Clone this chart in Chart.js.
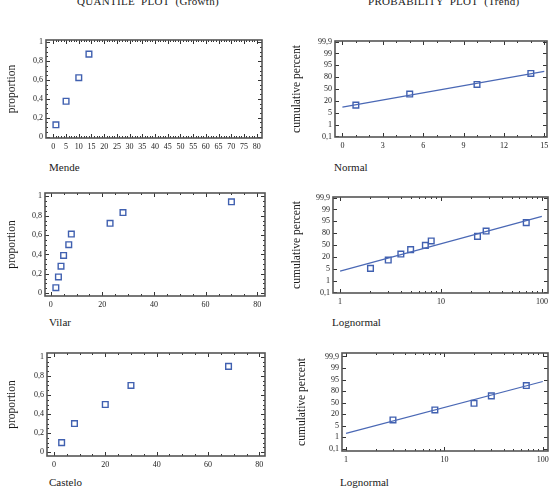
<!DOCTYPE html>
<html>
<head>
<meta charset="utf-8">
<script src="https://cdn.jsdelivr.net/npm/chart.js@4.4.1/dist/chart.umd.min.js"></script>
<style>
  html, body { margin:0; padding:0; background:#fff; }
  body { width:557px; height:488px; position:relative; overflow:hidden; font-family:"Liberation Serif", "DejaVu Serif", serif; color:#222; }
  .panel { position:absolute; }
  .txt { position:absolute; white-space:nowrap; line-height:1; font-family:"Liberation Serif", serif; color:#1a1a1a; }
  .head { font-size:11px; letter-spacing:0.3px; word-spacing:3px; }
  .lab { font-size:11px; }
</style>
</head>
<body>
<div class="txt head" id="t1" style="left:77px; top:-4px;">QUANTILE PLOT (Growth)</div>
<div class="txt head" id="t2" style="left:368px; top:-4px;">PROBABILITY PLOT (Trend)</div>
<div class="txt lab" style="left:49px; top:162px;">Mende</div>
<div class="txt lab" style="left:334px; top:162px;">Normal</div>
<div class="txt lab" style="left:49px; top:317px;">Vilar</div>
<div class="txt lab" style="left:332px; top:317px;">Lognormal</div>
<div class="txt lab" style="left:49px; top:477px;">Castelo</div>
<div class="txt lab" style="left:340px; top:477px;">Lognormal</div>

<div class="panel" id="p1"><canvas id="c1"></canvas></div>
<div class="panel" id="p2"><canvas id="c2"></canvas></div>
<div class="panel" id="p3"><canvas id="c3"></canvas></div>
<div class="panel" id="p4"><canvas id="c4"></canvas></div>
<div class="panel" id="p5"><canvas id="c5"></canvas></div>
<div class="panel" id="p6"><canvas id="c6"></canvas></div>

<script>
// ---------------- DATA ----------------
// Quantile plots (Growth): sorted values and plotting proportions
const mendeValues   = [1, 5, 10, 14];
const mendeProp     = [0.125, 0.375, 0.625, 0.875];
const vilarValues   = [2, 3, 4, 5, 7, 8, 23, 28, 70];
const vilarProp     = [0.056, 0.167, 0.278, 0.389, 0.5, 0.611, 0.722, 0.833, 0.944];
const casteloValues = [3, 8, 20, 30, 68];
const casteloProp   = [0.1, 0.3, 0.5, 0.7, 0.9];

// Probability plots (Trend): tick labels of the cumulative percent axis (positions 0..8)
const probTickLabels = ['0,1', '1', '5', '20', '50', '80', '95', '99', '99,9'];
// point heights read on that axis (in tick-position units)
const mendeProbPos   = [2.64, 3.57, 4.38, 5.31];
const vilarProbPos   = [2.03, 2.73, 3.24, 3.61, 3.97, 4.34, 4.73, 5.18, 5.89];
const casteloProbPos = [2.49, 3.36, 3.94, 4.58, 5.48];
// fitted lines (end points)
const mendeFitX   = [0, 15];   const mendeFitPos   = [2.47, 5.48];
const vilarFitX   = [1, 100];  const vilarFitPos   = [1.80, 6.42];
const casteloFitX = [1, 100];  const casteloFitPos = [1.33, 5.83];

// tick label values
const propTicks   = [0, 0.2, 0.4, 0.6, 0.8, 1];
const mendeXTicks = [0,5,10,15,20,25,30,35,40,45,50,55,60,65,70,75,80];
const wideXTicks  = [0, 20, 40, 60, 80];
const normXTicks  = [0, 3, 6, 9, 12, 15];
const logXTicks   = [1, 10, 100];

// ---------------- HELPERS ----------------
const FONT = '"Liberation Serif", serif';
const PT_COLOR = '#4060b0';
const LINE_COLOR = '#4a68b5';
function range(a, b, s) { const r = []; for (let v = a; v <= b + 1e-9; v += s) r.push(Math.round(v * 1000) / 1000); return r; }
const logMinor = [2,3,4,5,6,7,8,9,20,30,40,50,60,70,80,90];
const comma = v => String(v).replace('.', ',');

const frameTicks = {
  id: 'frameTicks',
  afterDatasetsDraw(chart, args, o) {
    const { ctx, chartArea: a, scales: { x, y } } = chart;
    ctx.save();
    ctx.strokeStyle = '#333';
    ctx.lineWidth = 1;
    const inX = px => px >= a.left - 0.5 && px <= a.right + 0.5;
    const inY = py => py >= a.top - 0.5 && py <= a.bottom + 0.5;
    const dx = (vals, len) => (vals || []).forEach(v => {
      const px = Math.round(x.getPixelForValue(v)) + 0.5; if (!inX(px)) return;
      ctx.beginPath(); ctx.moveTo(px, a.bottom); ctx.lineTo(px, a.bottom - len);
      ctx.moveTo(px, a.top); ctx.lineTo(px, a.top + len); ctx.stroke();
    });
    const dy = (vals, len) => (vals || []).forEach(v => {
      const py = Math.round(y.getPixelForValue(v)) + 0.5; if (!inY(py)) return;
      ctx.beginPath(); ctx.moveTo(a.left, py); ctx.lineTo(a.left + len, py);
      ctx.moveTo(a.right, py); ctx.lineTo(a.right - len, py); ctx.stroke();
    });
    dx(o.xMajor, 4); dx(o.xMinor, 2);
    dy(o.yMajor, 4); dy(o.yMinor, 2);
    ctx.strokeStyle = '#555';
    ctx.lineWidth = 1.6;
    ctx.strokeRect(a.left, a.top, a.right - a.left, a.bottom - a.top);
    ctx.restore();
  }
};
Chart.register(frameTicks);

function place(id, box) {
  const d = document.getElementById(id);
  d.style.left = box[0] + 'px'; d.style.top = box[1] + 'px';
  d.style.width = (box[2] - box[0]) + 'px'; d.style.height = (box[3] - box[1]) + 'px';
}

function makePanel(n, box, plot, cfg) {
  place('p' + n, box);
  const yW = plot[0] - box[0], xH = box[3] - plot[3];
  const padTop = plot[1] - box[1], padRight = box[2] - plot[2];
  const datasets = [];
  if (cfg.line) datasets.push({
    type: 'line', data: cfg.line.x.map((v, i) => ({ x: v, y: cfg.line.y[i] })),
    borderColor: LINE_COLOR, borderWidth: 1.2, pointRadius: 0, fill: false, tension: 0
  });
  datasets.push({
    type: 'scatter', data: cfg.px.map((v, i) => ({ x: v, y: cfg.py[i] })),
    pointStyle: 'rect', pointRadius: 4, borderWidth: 1.4,
    borderColor: PT_COLOR, backgroundColor: 'rgba(255,255,255,0)'
  });
  new Chart(document.getElementById('c' + n), {
    type: 'scatter',
    data: { datasets },
    options: {
      animation: false, responsive: true, maintainAspectRatio: false,
      layout: { padding: { top: padTop, right: padRight, left: 0, bottom: 0 } },
      plugins: { legend: { display: false }, tooltip: { enabled: false },
        frameTicks: { xMajor: cfg.xTicks, xMinor: cfg.xMinor, yMajor: cfg.yTicks, yMinor: cfg.yMinor } },
      scales: {
        x: {
          type: cfg.xType || 'linear', min: cfg.xMin, max: cfg.xMax,
          afterBuildTicks: s => { s.ticks = cfg.xTicks.map(v => ({ value: v })); },
          afterFit: s => { s.height = xH; },
          grid: { display: false, drawTicks: false }, border: { display: false },
          ticks: { font: { family: FONT, size: 8 }, color: '#222', padding: 4, maxRotation: 0, autoSkip: false,
                   callback: v => String(v) }
        },
        y: {
          type: 'linear', min: cfg.yMin, max: cfg.yMax,
          afterBuildTicks: s => { s.ticks = cfg.yTicks.map(v => ({ value: v })); },
          afterFit: s => { s.width = yW; },
          grid: { display: false, drawTicks: false }, border: { display: false },
          ticks: { font: { family: FONT, size: 8 }, color: '#222', padding: 3, autoSkip: false,
                   callback: cfg.yLabel },
          title: { display: true, text: cfg.yTitle, color: '#1a1a1a',
                   font: { family: FONT, size: 11.5 }, padding: { top: 5, bottom: 0 } }
        }
      }
    }
  });
}

const probPositions = probTickLabels.map((_, i) => i);
const probLabel = v => probTickLabels[Math.round(v)];

// Mende quantile
makePanel(1, [0, 28, 275, 160], [46, 40, 262, 138], {
  px: mendeValues, py: mendeProp, xMin: -2.9, xMax: 82.1, yMin: -0.015, yMax: 1.025,
  xTicks: mendeXTicks, xMinor: range(0, 80, 1), yTicks: propTicks, yMinor: range(0, 1, 0.05),
  yLabel: comma, yTitle: 'proportion'
});
// Mende normal probability
makePanel(2, [285, 28, 557, 160], [335, 41, 547, 137], {
  px: mendeValues, py: mendeProbPos, line: { x: mendeFitX, y: mendeFitPos },
  xMin: -0.55, xMax: 15.2, yMin: -0.05, yMax: 8.05,
  xTicks: normXTicks, xMinor: range(0, 15, 1), yTicks: probPositions, yMinor: [],
  yLabel: probLabel, yTitle: 'cumulative percent'
});
// Vilar quantile
makePanel(3, [0, 180, 275, 316], [45, 193, 265, 296], {
  px: vilarValues, py: vilarProp, xMin: -2.2, xMax: 83, yMin: -0.03, yMax: 1.035,
  xTicks: wideXTicks, xMinor: range(0, 80, 5), yTicks: propTicks, yMinor: range(0, 1, 0.05),
  yLabel: comma, yTitle: 'proportion'
});
// Vilar lognormal probability
makePanel(4, [285, 182, 557, 316], [333, 197, 548, 293], {
  px: vilarValues, py: vilarProbPos, line: { x: vilarFitX, y: vilarFitPos },
  xType: 'logarithmic', xMin: 0.85, xMax: 115, yMin: -0.05, yMax: 8.05,
  xTicks: logXTicks, xMinor: logMinor, yTicks: probPositions, yMinor: [],
  yLabel: probLabel, yTitle: 'cumulative percent'
});
// Castelo quantile
makePanel(5, [0, 340, 275, 476], [47, 353, 265, 456], {
  px: casteloValues, py: casteloProp, xMin: -2.7, xMax: 82.2, yMin: -0.04, yMax: 1.04,
  xTicks: wideXTicks, xMinor: range(0, 80, 5), yTicks: propTicks, yMinor: range(0, 1, 0.05),
  yLabel: comma, yTitle: 'proportion'
});
// Castelo lognormal probability
makePanel(6, [290, 340, 557, 476], [342, 353, 548, 451], {
  px: casteloValues, py: casteloProbPos, line: { x: casteloFitX, y: casteloFitPos },
  xType: 'logarithmic', xMin: 0.91, xMax: 113, yMin: -0.2, yMax: 8.3,
  xTicks: logXTicks, xMinor: logMinor, yTicks: probPositions, yMinor: [],
  yLabel: probLabel, yTitle: 'cumulative percent'
});
</script>
</body>
</html>
